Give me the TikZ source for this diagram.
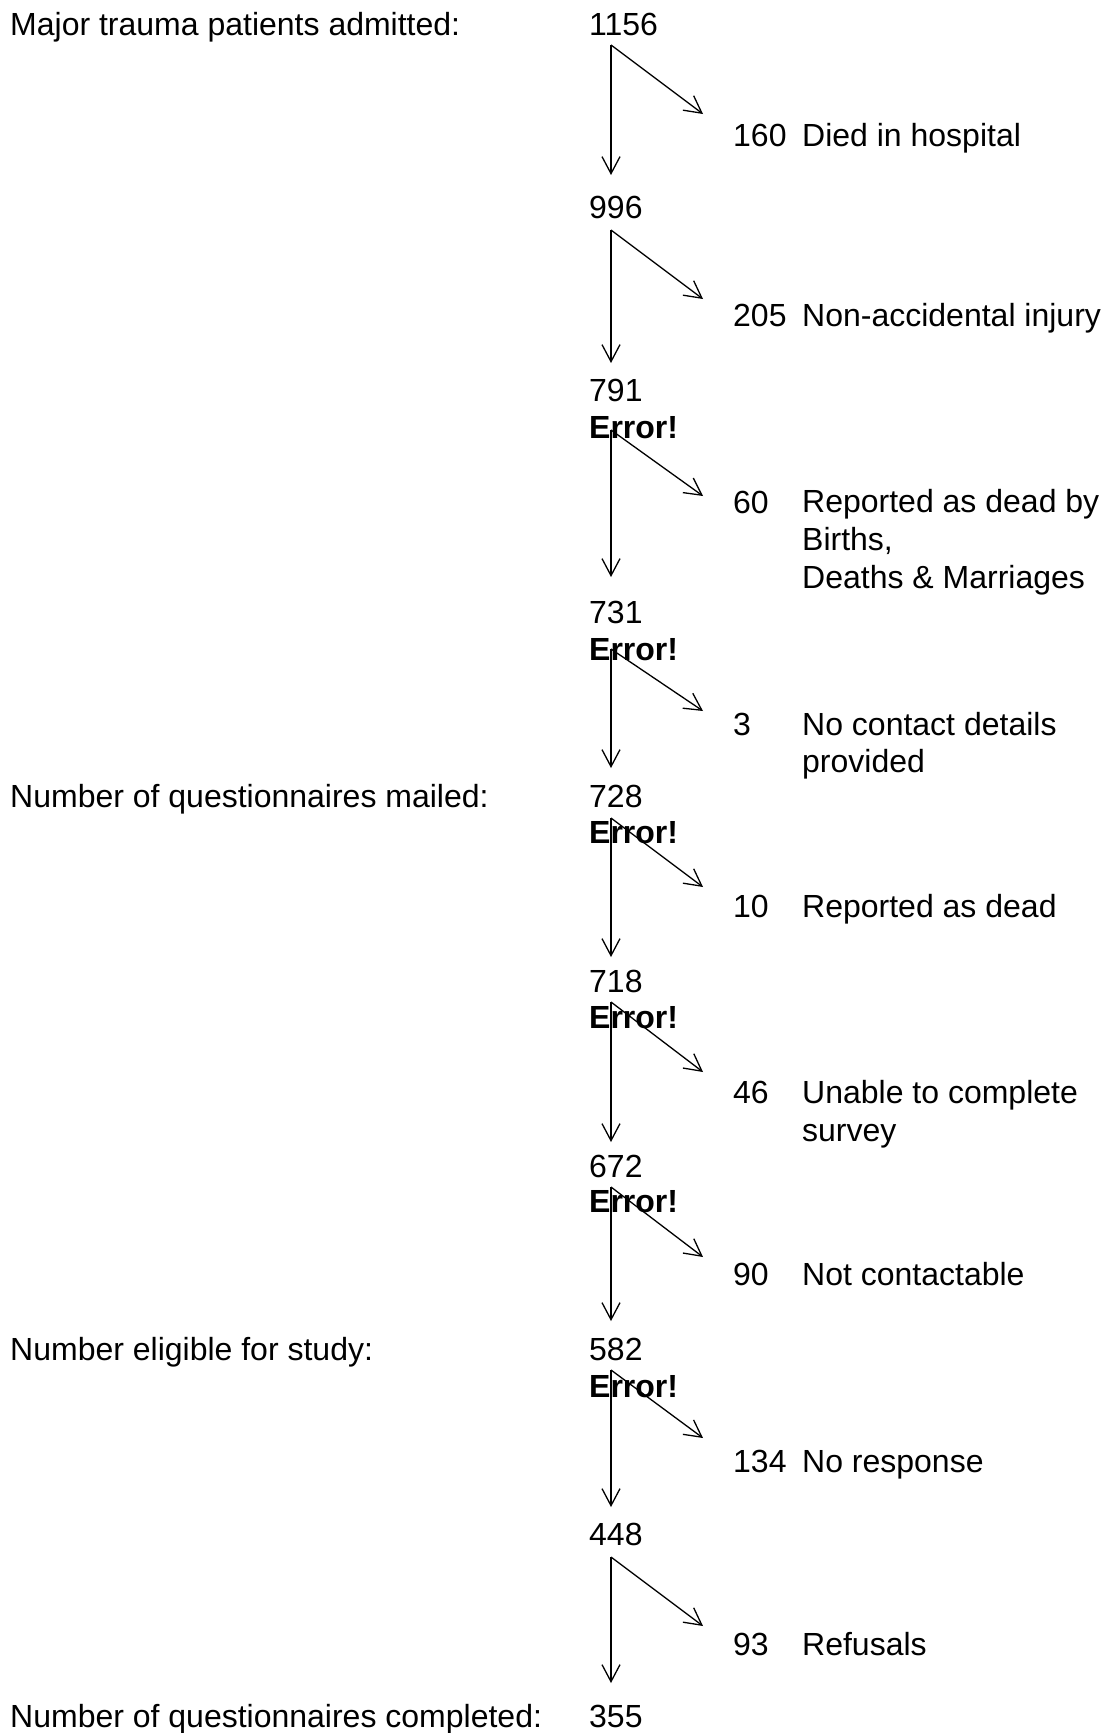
\documentclass[tikz,border=0pt]{standalone}
\usepackage{fontspec}
\setmainfont{Liberation Sans}
\usetikzlibrary{arrows.meta}

\begin{document}
\begin{tikzpicture}[x=1pt,y=-1pt,
	txt/.style={anchor=base west,inner sep=0pt,align=left,font=\fontsize{32}{38}\selectfont},
	errtxt/.style={txt,font=\fontsize{32}{38}\selectfont\bfseries},
	flow/.style={-{Straight Barb[length=17pt,width=18pt]},line width=1.3pt}]
	\useasboundingbox (0,0) rectangle (1109,1733);
	
	% labels on the left
	\node[txt] (lAdmit) at (10,35) {Major trauma patients admitted:};
	\node[txt] (lMailed) at (10,807) {Number of questionnaires mailed:};
	\node[txt] (lElig) at (10,1360) {Number eligible for study:};
	\node[txt] (lDone) at (10,1727) {Number of questionnaires completed:};
	
	% main column
	\node[txt] (n1156) at (589,35) {1156};
	\node[txt] (n996) at (589,218) {996};
	\node[txt] (n791) at (589,401) {791};
	\node[errtxt] (e791) at (589,438) {Error!};
	\node[txt] (n731) at (589,623) {731};
	\node[errtxt] (e731) at (589,660) {Error!};
	\node[txt] (n728) at (589,807) {728};
	\node[errtxt] (e728) at (589,843) {Error!};
	\node[txt] (n718) at (589,992) {718};
	\node[errtxt] (e718) at (589,1028) {Error!};
	\node[txt] (n672) at (589,1177) {672};
	\node[errtxt] (e672) at (589,1212) {Error!};
	\node[txt] (n582) at (589,1360) {582};
	\node[errtxt] (e582) at (589,1397) {Error!};
	\node[txt] (n448) at (589,1545) {448};
	\node[txt] (n355) at (589,1727) {355};
	
	% excluded (several-line texts sit on their last line)
	\node[txt] (x160) at (733,146) {160};
	\node[txt] (d160) at (802,146) {Died in hospital};
	\node[txt] (x205) at (733,326) {205};
	\node[txt] (d205) at (802,326) {Non-accidental injury};
	\node[txt] (x60) at (733,513) {60};
	\node[txt] (d60) at (802,588) {Reported as dead by\\Births,\\Deaths \& Marriages};
	\node[txt] (x3) at (733,735) {3};
	\node[txt] (d3) at (802,772) {No contact details\\[-1pt]provided};
	\node[txt] (x10) at (733,917) {10};
	\node[txt] (d10) at (802,917) {Reported as dead};
	\node[txt] (x46) at (733,1103) {46};
	\node[txt] (d46) at (802,1141) {Unable to complete\\survey};
	\node[txt] (x90) at (733,1285) {90};
	\node[txt] (d90) at (802,1285) {Not contactable};
	\node[txt] (x134) at (733,1472) {134};
	\node[txt] (d134) at (802,1472) {No response};
	\node[txt] (x93) at (733,1655) {93};
	\node[txt] (d93) at (802,1655) {Refusals};
	
	% arrow ends
	\coordinate (s1) at (611,45);   \coordinate (v1) at (611,175);  \coordinate (r1) at (703,114);
	\coordinate (s2) at (611,230);  \coordinate (v2) at (611,363);  \coordinate (r2) at (703,299);
	\coordinate (s3) at (611,430);  \coordinate (v3) at (611,577);  \coordinate (r3) at (703,496);
	\coordinate (s4) at (611,649);  \coordinate (v4) at (611,768);  \coordinate (r4) at (703,711);
	\coordinate (s5) at (611,818);  \coordinate (v5) at (611,957);  \coordinate (r5) at (703,887);
	\coordinate (s6) at (611,1002); \coordinate (v6) at (611,1142); \coordinate (r6) at (703,1072);
	\coordinate (s7) at (611,1187); \coordinate (v7) at (611,1321); \coordinate (r7) at (703,1257);
	\coordinate (s8) at (611,1370); \coordinate (v8) at (611,1507); \coordinate (r8) at (703,1438);
	\coordinate (s9) at (611,1557); \coordinate (v9) at (611,1683); \coordinate (r9) at (703,1626);
	
	\draw[flow] (s1) -- (v1);  \draw[flow] (s1) -- (r1);
	\draw[flow] (s2) -- (v2);  \draw[flow] (s2) -- (r2);
	\draw[flow] (s3) -- (v3);  \draw[flow] (s3) -- (r3);
	\draw[flow] (s4) -- (v4);  \draw[flow] (s4) -- (r4);
	\draw[flow] (s5) -- (v5);  \draw[flow] (s5) -- (r5);
	\draw[flow] (s6) -- (v6);  \draw[flow] (s6) -- (r6);
	\draw[flow] (s7) -- (v7);  \draw[flow] (s7) -- (r7);
	\draw[flow] (s8) -- (v8);  \draw[flow] (s8) -- (r8);
	\draw[flow] (s9) -- (v9);  \draw[flow] (s9) -- (r9);
\end{tikzpicture}
\end{document}
